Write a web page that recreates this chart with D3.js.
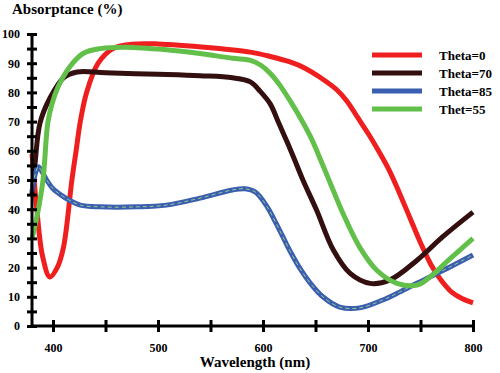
<!DOCTYPE html>
<html>
<head>
<meta charset="utf-8">
<script src="https://cdn.jsdelivr.net/npm/d3@7"></script>
<style>
  body { margin: 0; background: #fff; }
</style>
</head>
<body>
<div id="chart"></div>
<script>
const svgWidth = 500;
const svgHeight = 373;
const fontFamily = "'Liberation Serif', 'Times New Roman', serif";

// data: [wavelength (nm), absorptance (%)]
const theta0 = [[380,59],[384.6,40],[390,24],[397,16.8],[404,20],[410,27],[418,50],[422,60],[426,70],[432,80],[443,90],[457,95],[475,96.5],[500,96.6],[550,95.3],[588,93.8],[607,92.3],[625,90.5],[640,88.3],[655,85],[670,81],[680,77],[690,71.5],[700,66],[710,60],[720,53.5],[730,45.5],[740,37],[750,28.5],[760,21],[770,15.5],[780,11.5],[790,9.3],[800,7.9]];
const theta70 = [[380,45],[383,56],[387.6,69.5],[397,78],[410,85],[423,87],[450,86.7],[500,86.2],[540,85.7],[571,85],[588,83.6],[597,80.5],[607,76],[615,69.5],[623,63],[630,57],[638,50],[651,39.7],[667,26],[683,18],[702,14.6],[721,15.8],[747,22.6],[771,30.5],[800,39]];
const theta85 = [[380,46],[383,52],[386,54.5],[390,52.5],[394,50],[400,47],[407,45],[416,43],[426,41.4],[445,40.8],[480,40.8],[508,41.4],[540,43.8],[571,46.6],[583,47],[593,45.8],[604,40.8],[612,35.5],[619,30.5],[626,25.5],[635,19.8],[645,14.7],[657,10],[673,6.5],[692,6.2],[714,8.9],[730,11.6],[747,14.7],[778,20.2],[800,24.3]];
const thet55 = [[380,30],[385,38],[390.5,50],[395,69.5],[399,76],[405,82],[416,88.8],[429,93.4],[445,95],[470,95.5],[508,94.6],[540,93.3],[571,91.7],[588,91],[598,89.3],[607,86.5],[616,82.5],[626,77],[636,71],[645,65],[653,58.5],[664,49],[676,38.7],[692,27],[708.6,19],[727.6,14.6],[746.7,14],[759,16.8],[778,23],[800,30]];

const seriesNames = ["Theta=0", "Theta=70", "Theta=85", "Thet=55"];
const seriesData = [theta0, theta70, theta85, thet55];
const seriesColors = ["#ef1f1f", "#33100f", "#3a5fb0", "#62c04a"];

const xTicks = [400, 450, 500, 550, 600, 650, 700, 750, 800];
const yTicks = d3.range(0, 101, 5);

const margin = {top: 34, right: 27, bottom: 47, left: 32};
const width = svgWidth - margin.left - margin.right;
const height = svgHeight - margin.top - margin.bottom;

const root = d3.select("#chart")
    .append("svg")
    .attr("width", svgWidth)
    .attr("height", svgHeight)
    .attr("font-family", fontFamily)
    .attr("font-weight", "bold");

const svg = root.append("g")
    .attr("transform", "translate(" + margin.left + "," + margin.top + ")");

const x = d3.scaleLinear().domain([380, 800]).range([0, width]);
const y = d3.scaleLinear().domain([0, 100]).range([height, 0]);

const line = d3.line()
    .x(d => x(d[0]))
    .y(d => y(d[1]))
    .curve(d3.curveCatmullRom.alpha(0.5));

// curves
seriesData.forEach(function (d, i) {
    svg.append("path")
        .datum(d)
        .attr("fill", "none")
        .attr("stroke", seriesColors[i])
        .attr("stroke-width", 5)
        .attr("stroke-linejoin", "round")
        .attr("d", line);
    if (i === 2) {
        // thin dashed centre line on the blue curve
        svg.append("path")
            .datum(d)
            .attr("fill", "none")
            .attr("stroke", "#9cc98a")
            .attr("stroke-width", 1)
            .attr("stroke-dasharray", "4,3")
            .attr("d", line);
    }
});

// axes, ticks cross the line on both sides
const xAxis = svg.append("g")
    .attr("transform", "translate(0," + height + ")")
    .call(d3.axisBottom(x).tickValues(xTicks).tickSize(6).tickPadding(11)
        .tickFormat(d => d % 100 === 0 ? d : ""));

const yAxis = svg.append("g")
    .call(d3.axisLeft(y).tickValues(yTicks).tickSize(5).tickPadding(7)
        .tickFormat(d => d % 10 === 0 ? d : ""));

xAxis.select(".domain").attr("d", "M0,0H" + width);
yAxis.select(".domain").attr("d", "M0," + height + "V0");

[xAxis, yAxis].forEach(function (a) {
    a.attr("font-family", fontFamily).attr("font-size", 12);
    a.select(".domain").attr("stroke", "#000").attr("stroke-width", 3);
    a.selectAll(".tick line").attr("stroke", "#000").attr("stroke-width", 3);
    a.selectAll(".tick text").attr("fill", "#000");
});
xAxis.selectAll(".tick line").attr("y1", -6).attr("y2", 6);
yAxis.selectAll(".tick line").attr("x1", -5).attr("x2", 5);

// axis titles
root.append("text")
    .attr("x", 12)
    .attr("y", 14)
    .attr("font-size", 15)
    .text("Absorptance (%)");

root.append("text")
    .attr("x", 255)
    .attr("y", 367)
    .attr("text-anchor", "middle")
    .attr("font-size", 15)
    .text("Wavelength (nm)");

// legend
const legend = root.append("g")
    .attr("transform", "translate(372,55)");

seriesNames.forEach(function (name, i) {
    const g = legend.append("g").attr("transform", "translate(0," + (i * 18) + ")");
    g.append("line")
        .attr("x1", 0).attr("x2", 50)
        .attr("stroke", seriesColors[i])
        .attr("stroke-width", 5);
    g.append("text")
        .attr("x", 67)
        .attr("y", 5)
        .attr("font-size", 13)
        .text(name);
});
</script>
</body>
</html>
